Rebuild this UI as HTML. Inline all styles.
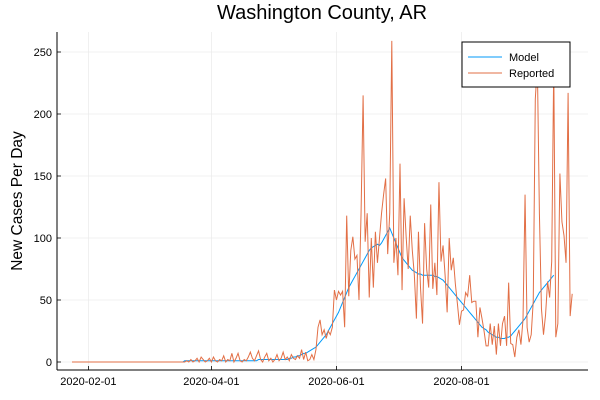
<!DOCTYPE html>
<html><head><meta charset="utf-8">
<style>
html,body{margin:0;padding:0;background:#fff;}
svg{display:block;font-family:"Liberation Sans","DejaVu Sans",sans-serif;}
</style></head>
<body>
<svg id="chart" width="600" height="400" viewBox="0 0 600 400">
  <text x="322" y="19" text-anchor="middle" font-size="20" fill="#000">Washington County, AR</text>
  <text transform="translate(22,201) rotate(-90)" text-anchor="middle" font-size="15.5" fill="#000">New Cases Per Day</text>
  <g id="grid"></g>
  <g id="series"></g>
  <g id="axes"></g>
  <g>
    <rect x="462" y="42" width="108" height="45" fill="#fff" stroke="#000" stroke-width="1"/>
    <line x1="468" y1="57" x2="502" y2="57" stroke="#009AFA" stroke-width="1"/>
    <text x="509" y="61" font-size="11">Model</text>
    <line x1="468" y1="73" x2="502" y2="73" stroke="#E26F46" stroke-width="1"/>
    <text x="509" y="77" font-size="11">Reported</text>
  </g>
</svg>
<script>
const xTickLabels = ["2020-02-01","2020-04-01","2020-06-01","2020-08-01"];
const xTickDays = [8, 68, 129, 190];
const yTicks = [0, 50, 100, 150, 200, 250];
const reported = [].concat(
  new Array(55).fill(0),
  [0,1,0,2,0,1,3,0,4,2,0,1,3,0,4,1],
  [0,2,1,5,0,2,1,7,0,3,7,1,0,2,1,4],
  [8,3,1,5,9,2,0,4,7,1,3,0,2,6,1,3],
  [8,2,4,1,6,3,2,5],
  [3,10,2,8,1,2,6,2],
  [10,28,34,22,26,19,25,22,28,58],
  [50,57,54,57,28,118,53,90,101,83],
  [86,50,120,215,97,120,52,100,60,105],
  [80,100,120,135,148,87,120,259,80,100],
  [70,160,58,132,101,75,118,90,70,35],
  [105,60,31,112,75,60,127,59,80,54],
  [145,81,94,70,40,100],
  [74,84,63,47,30,41,42,56,53,70,48,49,49,20,44],
  [35,25,13,13,31,14,29,6,31,13],
  [31,37,13,64,15,14,4,20,26,14],
  [34,135,28,16,22,49,212,240,120,43],
  [22,38,65,52,81,240,20,31,152,113],
  [102,80,217,37,55]
);
const model = [].concat(
  new Array(55).fill(0),
  new Array(36).fill(1),
  new Array(15).fill(2),
  [3,3,4,4,5],
  [5,6,7,7,8,9,10,11,12,14],
  [16,18,20,22,25,28,31,34,37,40],
  [44,48,52,56,60,63,66,69,72,75],
  [78,81,84,87,90,92,93,94,95,94],
  [96,99,102,105,108,104,100,96,92,88],
  [84,82,80,78,76,74,73,72,71,71],
  [70,70,70,70,70,70,69,69,68,67],
  [66,64,62,60,58,56,54,52,50,48],
  [46,44,42,40,38,36,34,32,30,28],
  [27,26,24,23,22,21,20,20,19,19],
  [19,20,20,21,23,25,27,29,31,33],
  [35,38,41,44,47,50,53,56,58,60],
  [62,64,66,68,70]
);

const NS = "http://www.w3.org/2000/svg";
const L = 57, R = 588, T = 32, B = 370;
function xs(d){ return 72 + 2.05 * d; }
function ys(v){ return 362 - 1.24 * v; }
function mk(tag, attrs, parent){
  const e = document.createElementNS(NS, tag);
  for (const k in attrs) e.setAttribute(k, attrs[k]);
  parent.appendChild(e);
  return e;
}
const grid = document.getElementById('grid');
const axes = document.getElementById('axes');
const series = document.getElementById('series');

yTicks.forEach(v => {
  const g = mk('line', {x1:L, x2:R, y1:ys(v), y2:ys(v), stroke:'#e6e6e6', 'stroke-width':0.6}, grid);
  
  
  const t = mk('line', {x1:L, x2:L+4, y1:ys(v), y2:ys(v), stroke:'#000', 'stroke-width':0.8}, axes);
  
  
  const lb = mk('text', {x:L-5, y:ys(v)+4, 'text-anchor':'end', 'font-size':11}, axes);
  lb.textContent = v;
  
  
});
xTickDays.forEach((d, i) => {
  const g = mk('line', {x1:xs(d), x2:xs(d), y1:T, y2:B, stroke:'#e6e6e6', 'stroke-width':0.6}, grid);
  
  
  const t = mk('line', {x1:xs(d), x2:xs(d), y1:B, y2:B-4, stroke:'#000', 'stroke-width':0.8}, axes);
  
  
  const lb = mk('text', {x:xs(d), y:385, 'text-anchor':'middle', 'font-size':11}, axes);
  lb.textContent = xTickLabels[i];
  
  
});
const ax = mk('line', {x1:L, x2:L, y1:T, y2:B, stroke:'#000', 'stroke-width':1}, axes);


const bx = mk('line', {x1:L, x2:R, y1:B, y2:B, stroke:'#000', 'stroke-width':1}, axes);



function path(arr){ return arr.map((v,i)=>(i?'L':'M')+xs(i).toFixed(2)+','+ys(v).toFixed(2)).join(''); }
const mp = mk('path', {d:path(model), fill:'none', stroke:'#009AFA', 'stroke-width':1}, series);


const rp = mk('path', {d:path(reported), fill:'none', stroke:'#E26F46', 'stroke-width':1}, series);


</script>
</body></html>
